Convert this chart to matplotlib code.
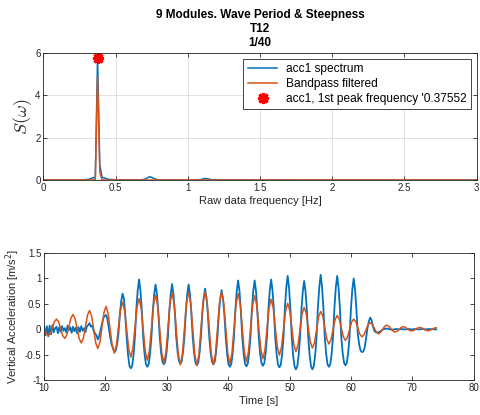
import numpy as np
import matplotlib
matplotlib.use("Agg")
import matplotlib.pyplot as plt

plt.rcParams['font.family'] = ['Liberation Sans', 'DejaVu Sans']

# ---------------- spectrum data ----------------
freq_hz = [0.0, 0.20, 0.28, 0.31300, 0.32863, 0.34426, 0.35989, 0.37552, 0.39115,
           0.40678, 0.42241, 0.43804, 0.45367, 0.50, 0.68, 0.70, 0.72, 0.735,
           0.75, 0.765, 0.78, 0.80, 1.06, 1.09, 1.11, 1.125, 1.14, 1.17, 1.5,
           2.0, 2.5, 3.0]
spec_raw = [0.0, 0.0, 0.01, 0.03, 0.06, 0.12, 0.07, 5.75, 0.72,
            0.12, 0.10, 0.06, 0.03, 0.01, 0.01, 0.03, 0.10, 0.15,
            0.13, 0.07, 0.03, 0.01, 0.0, 0.02, 0.06, 0.07, 0.05, 0.01, 0.01,
            0.0, 0.0, 0.0]
spec_filt = [0.0, 0.0, 0.0, 0.0, 0.0, 0.0, 0.03, 4.9, 0.35,
             0.0, 0.0, 0.0, 0.0, 0.0, 0.0, 0.0, 0.0, 0.0,
             0.0, 0.0, 0.0, 0.0, 0.0, 0.0, 0.0, 0.0, 0.0, 0.0, 0.0,
             0.0, 0.0, 0.0]
peak_freq = 0.37552
peak_val = 5.75

# ---------------- time series data ----------------
t0 = 10.02            # first sample time [s]
dt_raw = 0.22417      # raw record sample step [s]
dt_filt = 0.33625     # filtered record sample step [s]

acc_raw = [
    0.05, -0.12, 0.06, -0.14, 0.07, -0.10, 0.08, -0.06, 0.02, 0.05, -0.08, 0.04,
    -0.05, 0.06, -0.03, 0.02, -0.06, 0.07, -0.02, 0.04, -0.07, 0.05, -0.04, 0.03,
    -0.08, 0.04, -0.05, 0.06, -0.03, 0.02, -0.06, 0.05, 0.08, 0.12, 0.05, 0.07,
    -0.04, -0.08, -0.12, -0.20, -0.14, -0.02, 0.10, 0.22, 0.26, 0.28, 0.20, 0.02,
    -0.15, -0.30, -0.36,
    -0.45, -0.42, -0.30, -0.09, 0.28, 0.55, 0.70, 0.60, 0.27, -0.17, -0.51, -0.72,
    -0.77, -0.72, -0.50, -0.15, 0.39, 0.76, 0.98, 0.76, 0.37, -0.16, -0.49, -0.69,
    -0.74, -0.69, -0.48, -0.15, 0.35, 0.69, 0.88, 0.69, 0.33, -0.15, -0.46, -0.64,
    -0.69, -0.64, -0.45, -0.14, 0.36, 0.69, 0.89, 0.69, 0.34, -0.15, -0.45, -0.63,
    -0.68, -0.63, -0.44, -0.14, 0.35, 0.69, 0.88, 0.69, 0.33, -0.16, -0.47, -0.66,
    -0.71, -0.66, -0.46, -0.14, 0.32, 0.62, 0.80, 0.62, 0.30, -0.15, -0.46, -0.64,
    -0.69, -0.64, -0.45, -0.14, 0.31, 0.60, 0.77, 0.60, 0.29, -0.16, -0.49, -0.69,
    -0.74, -0.69, -0.48, -0.15, 0.38, 0.75, 0.96, 0.75, 0.36, -0.16, -0.48, -0.68,
    -0.73, -0.68, -0.47, -0.15, 0.38, 0.75, 0.96, 0.75, 0.36, -0.16, -0.48, -0.67,
    -0.72, -0.67, -0.47, -0.14, 0.39, 0.76, 0.98, 0.76, 0.37, -0.17, -0.50, -0.70,
    -0.75, -0.70, -0.49, -0.15, 0.42, 0.82, 1.05, 0.82, 0.40, -0.17, -0.52, -0.73,
    -0.79, -0.73, -0.51, -0.16, 0.38, 0.74, 0.95, 0.74, 0.36, -0.17, -0.52, -0.73,
    -0.79, -0.73, -0.51, -0.16, 0.43, 0.83, 1.07, 0.83, 0.41, -0.16, -0.49, -0.69,
    -0.74, -0.69, -0.48, -0.15, 0.42, 0.82, 1.05, 0.82, 0.40, -0.16, -0.47, -0.66,
    -0.71, -0.66, -0.46, -0.14, 0.40, 0.78, 1.00, 0.78, 0.38, -0.10, -0.30, -0.42,
    -0.45, -0.44, -0.36, -0.18, 0.02, 0.15, 0.23, 0.18, 0.06, -0.03, -0.06, -0.06,
    -0.06, -0.05, -0.03, -0.01, 0.00, 0.01, 0.01, 0.01, 0.00, -0.005, -0.01, -0.005,
    0.0, 0.005, 0.0, -0.005, 0.0, 0.005, 0.0, -0.005, 0.0, 0.0, 0.005, 0.0,
    -0.005, 0.0, 0.0, 0.005, 0.0, -0.005, 0.0, 0.0, 0.005, 0.0, -0.005, 0.0,
    0.0, 0.005, 0.0, 0.0, 0.0, -0.005, 0.0,
]

acc_filt = [
    0.03, -0.08,
    -0.13, -0.082, 0.035, 0.152, 0.20, 0.145, 0.01, -0.125,
    -0.18, -0.111, 0.055, 0.221, 0.29, 0.208, 0.01, -0.188,
    -0.27, -0.177, 0.05, 0.277, 0.37, 0.26, -0.005, -0.27,
    -0.38, -0.259, 0.035, 0.329, 0.45, 0.316, -0.01, -0.336,
    -0.47, -0.324, 0.03, 0.384, 0.53, 0.372, -0.01, -0.392,
    -0.55, -0.382, 0.025, 0.432, 0.60, 0.423, -0.005, -0.433,
    -0.61, -0.423, 0.03, 0.483, 0.67, 0.476, 0.005, -0.466,
    -0.66, -0.46, 0.025, 0.51, 0.71, 0.504, 0.005, -0.494,
    -0.70, -0.491, 0.015, 0.521, 0.73, 0.52, 0.01, -0.50,
    -0.71, -0.498, 0.015, 0.528, 0.74, 0.53, 0.02, -0.49,
    -0.70, -0.491, 0.015, 0.521, 0.73, 0.524, 0.025, -0.474,
    -0.68, -0.479, 0.01, 0.499, 0.70, 0.504, 0.03, -0.444,
    -0.64, -0.45, 0.01, 0.47, 0.66, 0.479, 0.04, -0.399,
    -0.58, -0.409, 0.005, 0.419, 0.59, 0.429, 0.04, -0.349,
    -0.51, -0.361, 0.0, 0.361, 0.51, 0.371, 0.035, -0.301,
    -0.44, -0.313, -0.005, 0.303, 0.43, 0.313, 0.03, -0.253,
    -0.37, -0.265, -0.01, 0.245, 0.35, 0.257, 0.03, -0.197,
    -0.29, -0.208, -0.01, 0.188, 0.27, 0.198, 0.025, -0.148,
    -0.22, -0.159, -0.01, 0.139, 0.20, 0.149, 0.025, -0.099,
    -0.15, -0.109, -0.01, 0.089, 0.13, 0.098, 0.02, -0.058,
    -0.09, -0.065, -0.005, 0.055, 0.08, 0.06, 0.013, -0.035,
    -0.055, -0.04, -0.003, 0.035, 0.05, 0.038, 0.008, -0.023,
    -0.035, -0.025, 0.0, 0.025, 0.035, 0.025, 0.003, -0.021,
    -0.03, -0.021, 0.0, 0.021, 0.03,
]

title_lines = ["9 Modules. Wave Period & Steepness", "T12", "1/40"]

BLUE = "#0072BD"
ORANGE = "#D95319"
AXC = "#262626"

t_raw = t0 + np.arange(len(acc_raw)) * dt_raw
t_filt = t0 + np.arange(len(acc_filt)) * dt_filt

fig = plt.figure(figsize=(4.8, 4.15), dpi=100)

def style_axes(ax):
    for s in ax.spines.values():
        s.set_color(AXC)
        s.set_linewidth(0.6)
    ax.tick_params(direction="in", top=True, right=True, length=3,
                   width=0.6, colors=AXC, labelsize=7, pad=2)

# ---- spectrum panel ----
ax1 = fig.add_axes([0.0902, 0.5663, 0.903, 0.306])
ax1.plot(freq_hz, spec_raw, color=BLUE, lw=1.1, label="acc1 spectrum")
ax1.plot(freq_hz, spec_filt, color=ORANGE, lw=1.1, label="Bandpass filtered")
ax1.plot([peak_freq], [peak_val], linestyle="none", marker=(8, 2, 0),
         markersize=8, markeredgewidth=2.2, color="red",
         label=f"acc1, 1st peak frequency '{peak_freq:.5f}")
ax1.set_xlim(0, 3)
ax1.set_ylim(0, 6)
ax1.set_xticks(np.arange(0, 3.01, 0.5))
ax1.set_xticklabels(["0", "0.5", "1", "1.5", "2", "2.5", "3"])
ax1.set_yticks([0, 2, 4, 6])
ax1.grid(True, color="#dcdcdc", lw=0.6)
ax1.set_axisbelow(True)
style_axes(ax1)
ax1.set_xlabel("Raw data frequency [Hz]", fontsize=8, color=AXC, labelpad=2)
ax1.set_ylabel(r"$S(\omega)$", fontsize=13, color=AXC, labelpad=1,
               math_fontfamily="cm")
ax1.set_title("\n".join(title_lines), fontsize=8.5, fontweight="bold",
              linespacing=1.25, pad=5, color="black")
leg = ax1.legend(loc="upper right", fontsize=8.6, frameon=True, fancybox=False,
                 edgecolor=AXC, framealpha=1, handlelength=2.5,
                 handletextpad=0.7, labelspacing=0.25, borderpad=0.35,
                 borderaxespad=0.5)
leg.get_frame().set_linewidth(0.6)

# ---- time series panel ----
ax2 = fig.add_axes([0.0917, 0.0843, 0.895, 0.306])
ax2.plot(t_raw, acc_raw, color=BLUE, lw=1.3)
ax2.plot(t_filt, acc_filt, color=ORANGE, lw=1.1)
ax2.set_xlim(10, 80)
ax2.set_ylim(-1, 1.5)
ax2.set_xticks(np.arange(10, 81, 10))
ax2.set_yticks([-1, -0.5, 0, 0.5, 1, 1.5])
ax2.set_yticklabels(["-1", "-0.5", "0", "0.5", "1", "1.5"])
style_axes(ax2)
ax2.set_xlabel("Time [s]", fontsize=8, color=AXC, labelpad=2)
ax2.set_ylabel(r"Vertical Acceleration [m/s$^2$]", fontsize=8, color=AXC,
               labelpad=2)

fig.savefig("out.png", dpi=100)
